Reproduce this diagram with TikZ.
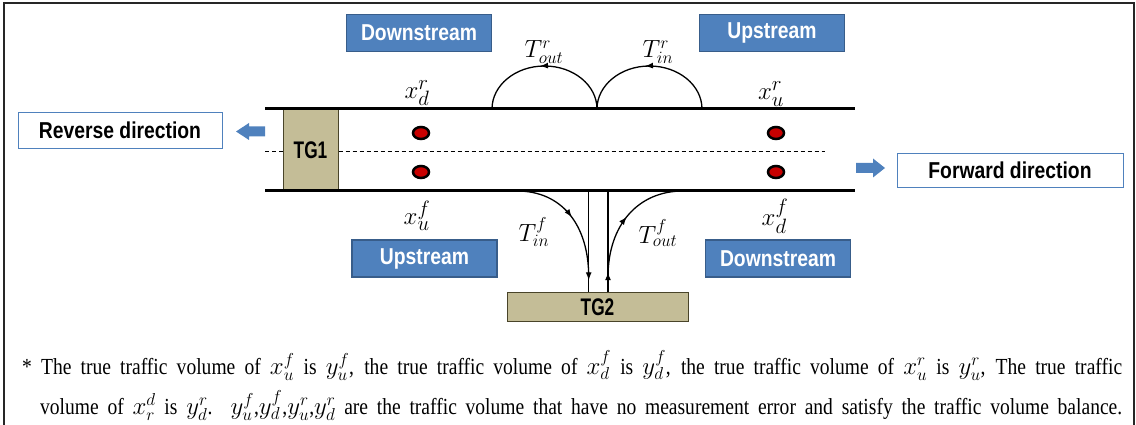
\documentclass[tikz,border=0pt]{standalone}
\usepackage{fontspec}
\setmainfont{Liberation Serif}
\newfontfamily\boxfont[FakeStretch=0.84]{Liberation Sans}
\newfontfamily\tgfont[FakeStretch=0.72]{Liberation Sans}
\newfontfamily\notefont[FakeStretch=0.85]{Liberation Serif}
\usetikzlibrary{shapes.geometric,decorations.markings,arrows.meta}
\definecolor{boxblue}{RGB}{79,129,189}
\definecolor{boxborder}{RGB}{56,93,138}
\definecolor{tgfill}{RGB}{196,189,151}
\definecolor{tgborder}{RGB}{73,68,41}
\definecolor{dotred}{RGB}{200,0,0}
\tikzset{
  bluebox/.style={draw=boxborder, fill=boxblue, text=white, line width=1.2pt,
    font=\boxfont\bfseries\fontsize{23}{26}\selectfont,
    minimum width=145pt, minimum height=37pt, inner sep=0pt},
  dirbox/.style={draw=boxblue, fill=white, text=black, line width=0.9pt,
    font=\boxfont\bfseries\fontsize{23}{26}\selectfont, inner sep=0pt},
  tgbox/.style={draw=tgborder, fill=tgfill, line width=1pt,
    font=\tgfont\bfseries\fontsize{24}{26}\selectfont, inner sep=0pt},
  dotnode/.style={ellipse, draw=black, line width=2.5pt, fill=dotred,
    minimum width=16pt, minimum height=12pt, inner sep=0pt},
  road/.style={line width=3pt, black},
  lab/.style={font=\fontsize{28}{30}\selectfont, inner sep=0pt},
  tlab/.style={font=\fontsize{25}{28}\selectfont, inner sep=0pt},
  flow/.style={line width=1.3pt, black},
  midarrow/.style={postaction={decorate}, decoration={markings,
    mark=at position #1 with {\arrow{Latex[length=8pt,width=6pt]}}}},
  dirarrow/.style={fill=boxblue, draw=none}
}
\begin{document}
\begin{tikzpicture}[x=1pt,y=1pt]
\useasboundingbox (0,0) rectangle (1136,425);
% frame
\draw[line width=1.6pt, black!85] (4,0) -- (4,422) -- (1134,422) -- (1134,0);

% road coordinates
\coordinate (RT1) at (265,316); \coordinate (RT2) at (855,316);
\coordinate (RB1) at (265,234); \coordinate (RB2) at (855,234);
\coordinate (DL1) at (265,274); \coordinate (DL2) at (825,274);

% TG1
\node[tgbox, minimum width=55pt, minimum height=82pt] (TG1) at (310.5,275) {TG1};
% TG2
\node[tgbox, minimum width=181pt, minimum height=29pt] (TG2) at (597.5,117.5) {TG2};

% roads
\draw[line width=0.8pt, dash pattern=on 4pt off 3pt] (DL1) -- (TG1.west |- DL1);
\draw[line width=0.8pt, dash pattern=on 4pt off 3pt] (TG1.east |- DL2) -- (DL2);
\draw[road] (RT1) -- (RT2);
\draw[road] (RB1) -- (RB2);

% dots
\node[dotnode] (d1) at (421,292) {};
\node[dotnode] (d2) at (421,253) {};
\node[dotnode] (d3) at (776,292) {};
\node[dotnode] (d4) at (776,253) {};

% top arcs
\coordinate (A1) at (597,316);
\coordinate (A0) at (492,316);
\coordinate (A2) at (702,316);
\draw[flow, midarrow=0.53] (A1) arc[start angle=0, end angle=180, x radius=52.5, y radius=43];
\draw[flow, midarrow=0.53] (A2) arc[start angle=0, end angle=180, x radius=52.5, y radius=43];

% bottom flows
\coordinate (V1) at (588.7,234);
\coordinate (V2) at (608,234);
\coordinate (C1) at (517,234);
\coordinate (C2) at (683,234);
\draw[flow, midarrow=0.88] (V1) -- (V1 |- TG2.north);
\draw[flow, midarrow=0.2] (V2 |- TG2.north) -- (V2);
\draw[flow, midarrow=0.5] (C1) .. controls (562,234) and (588.7,200) .. (588.7,148);
\draw[flow, midarrow=0.5] (608,148) .. controls (608,200) and (638,234) .. (C2);

% labels
\node[lab] (xdr) at (417,332) {$x_d^r$};
\node[lab] (xur) at (771,331) {$x_u^r$};
\node[lab] (xuf) at (417,209) {$x_u^f$};
\node[lab] (xdf) at (775,209) {$x_d^f$};
\node[tlab] (Toutr) at (544,373) {$T_{out}^r$};
\node[tlab] (Tinr) at (658,373) {$T_{in}^r$};
\node[tlab] (Tinf) at (534,193) {$T_{in}^f$};
\node[tlab] (Toutf) at (658,192) {$T_{out}^f$};

% blue boxes
\node[bluebox] (dsT) at (419,392) {Downstream};
\node[bluebox] (usT) at (772,392) {Upstream};
\node[bluebox] (usB) at (424.5,166.5) {Upstream};
\node[bluebox] (dsB) at (778,166.5) {Downstream};

% direction boxes
\node[dirbox, minimum width=204pt, minimum height=36pt] (rev) at (120,295) {Reverse direction};
\node[dirbox, minimum width=226pt, minimum height=34pt] (fwd) at (1010,255) {Forward direction};

% direction arrows
\fill[dirarrow] (265,288.5) -- (249,288.5) -- (249,285) -- (236,293.5) -- (249,302) -- (249,298.5) -- (265,298.5) -- cycle;
\fill[dirarrow] (856,252) -- (873,252) -- (873,247.5) -- (885,257) -- (873,266.5) -- (873,262) -- (856,262) -- cycle;

% footnote
\node[anchor=north west, inner sep=0pt, text width=1100pt, align=justify,
      font=\notefont\fontsize{23}{40}\selectfont] (note) at (22,75)
{\noindent\hangindent=18pt\hangafter=1\parfillskip=0pt
* The true traffic volume of $x_u^f$ is $y_u^f$, the true traffic volume of $x_d^f$ is $y_d^f$, the true traffic volume of $x_u^r$ is $y_u^r$, The true traffic\linebreak
volume of $x_r^d$ is $y_d^r$. $y_u^f$,$y_d^f$,$y_u^r$,$y_d^r$ are the traffic volume that have no measurement error and satisfy the traffic volume balance.\par};
\end{tikzpicture}
\end{document}
